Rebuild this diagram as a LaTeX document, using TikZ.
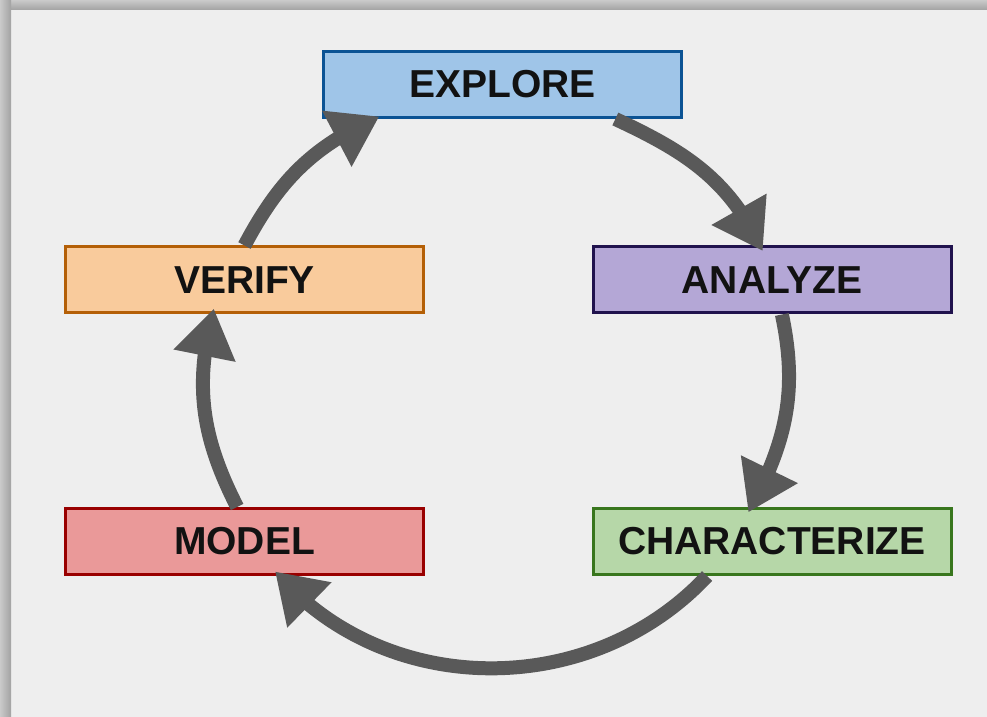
\documentclass[tikz,border=0pt]{standalone}
\usepackage{fontspec}
\setmainfont{Liberation Sans}
\usepackage{tikz}
\usetikzlibrary{arrows.meta,bending}
\definecolor{bgGray}{HTML}{EEEEEE}
\definecolor{frameLight}{HTML}{CACACA}
\definecolor{frameDark}{HTML}{A2A2A2}
\definecolor{flowGray}{HTML}{595959}
\definecolor{exploreFill}{HTML}{9FC5E8}
\definecolor{exploreLine}{HTML}{0B5394}
\definecolor{analyzeFill}{HTML}{B4A7D6}
\definecolor{analyzeLine}{HTML}{20124D}
\definecolor{charFill}{HTML}{B6D7A8}
\definecolor{charLine}{HTML}{38761D}
\definecolor{modelFill}{HTML}{EA9999}
\definecolor{modelLine}{HTML}{990000}
\definecolor{verifyFill}{HTML}{F9CB9C}
\definecolor{verifyLine}{HTML}{B45F06}

\begin{document}
\begin{tikzpicture}[x=0.5pt,y=0.5pt,
  stage/.style={draw,line width=1.5pt,minimum width=179pt,minimum height=33pt,inner sep=0pt,
    font=\fontsize{19.5}{20}\selectfont\bfseries,text=black!93},
  flow/.style={flowGray,line width=7pt,shorten >=-3pt,-{Triangle[length=24pt,width=30pt,flex]}}]
\useasboundingbox (0,0) rectangle (987,-717);
\fill[bgGray] (0,0) rectangle (987,-717);
\shade[top color=frameLight,bottom color=frameDark] (0,0) rectangle (987,-10);
\shade[left color=frameLight,right color=frameDark] (0,0) rectangle (11,-717);
\node[stage,fill=exploreFill,draw=exploreLine] (explore) at (502.5,-84.5) {EXPLORE};
\node[stage,fill=analyzeFill,draw=analyzeLine] (analyze) at (772,-280) {ANALYZE};
\node[stage,fill=charFill,draw=charLine] (characterize) at (772,-541.5) {CHARACTERIZE};
\node[stage,fill=modelFill,draw=modelLine] (model) at (244.5,-541.5) {MODEL};
\node[stage,fill=verifyFill,draw=verifyLine] (verify) at (244.5,-280) {VERIFY};
\draw[flow] (explore.-17.5) to[out=-25,in=116] (analyze.109);
\draw[flow] (analyze.-74) to[out=-78,in=62] (characterize.121);
\draw[flow] (characterize.208) to[out=-133,in=-48] (model.-45);
\draw[flow] (model.102) to[out=117,in=-104] (verify.-133);
\draw[flow] (verify.90) to[out=62,in=205] (explore.195);
\end{tikzpicture}
\end{document}
